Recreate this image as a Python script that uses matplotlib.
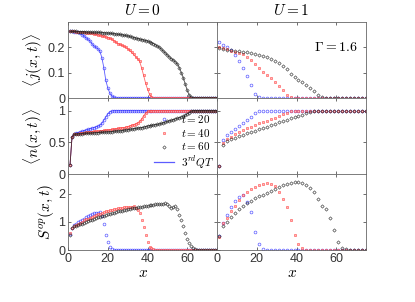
import numpy as np
import matplotlib
matplotlib.use("Agg")
import matplotlib.pyplot as plt

plt.rcParams['mathtext.fontset'] = 'cm'
plt.rcParams['font.family'] = ['Liberation Sans', 'DejaVu Sans']

# sites
x_left = np.arange(1, 76)
x_right = np.arange(1, 76, 2)

# U = 0, current
j0_t20 = [.263, .263, .262, .261, .259, .255, .250, .245, .238, .232, .225, .215, .205, .200, .195,
          .185, .160, .120, .070, .040, .020, .008, .003] + [0.0] * 52
j0_t40 = [.263, .263, .263, .262, .262, .261, .260, .259, .258,
          .257, .256, .255, .253, .251, .249, .247, .245, .243, .241,
          .239, .236, .232, .227, .221, .215, .212, .208, .205, .200,
          .195, .188, .180, .172, .163, .155, .145, .120, .090, .060,
          .035, .015, .005] + [0.0] * 33
j0_t60 = [.263, .263, .263, .263, .262, .262, .262, .262, .261, .261,
          .261, .260, .260, .260, .259, .259, .258, .258, .257, .257,
          .256, .255, .254, .253, .252, .251, .250, .248, .247, .245,
          .243, .241, .239, .237, .235, .233, .231, .229, .227, .225,
          .222, .219, .215, .210, .205, .200, .193, .185, .178, .170,
          .162, .155, .150, .143, .135, .120, .100, .080, .055, .030,
          .012, .004] + [0.0] * 13

# U = 0, density
n0_t20 = [.15, .59, .63, .645, .655, .665, .675, .685, .695, .705, .715, .725, .735, .745, .755,
          .77, .80, .85, .90, .95, .98, .995, 1.0] + [1.0] * 52
n0_t40 = [.15, .59, .63, .635, .64, .645, .65, .655, .66, .663,
          .666, .669, .672, .675, .678, .681, .685, .689, .693, .697,
          .701, .705, .71, .715, .72, .725, .73, .735, .74, .75,
          .76, .77, .78, .795, .81, .83, .87, .92, .96, .99, 1.0] + [1.0] * 34
n0_t60 = [.15, .59, .625, .63, .633, .636, .639, .641, .643, .645,
          .647, .649, .651, .653, .655, .657, .659, .661, .663, .665,
          .668, .671, .674, .677, .680, .683, .686, .690, .695, .700,
          .705, .71, .715, .72, .725, .73, .735, .74, .75, .76,
          .765, .77, .775, .78, .785, .79, .80, .81, .82, .83,
          .84, .85, .86, .87, .88, .89, .90, .91, .93, .95,
          .97, .99, 1.0] + [1.0] * 12

# U = 0, entanglement
s0_t20 = [.57, .8, .88, .93, .98, 1.02, 1.07, 1.12, 1.17, 1.21, 1.25, 1.29, 1.3, 1.33, 1.32,
          1.35, 1.2, .92, .55, .3, .12, .04, .01, 0.0] + [0.0] * 51
s0_t40 = [.6, .8, .86, .9, .94, .97, 1.01, 1.05, 1.09, 1.12,
          1.15, 1.18, 1.21, 1.24, 1.27, 1.29, 1.32, 1.35, 1.37, 1.4,
          1.42, 1.44, 1.46, 1.47, 1.49, 1.5, 1.51, 1.52, 1.52, 1.53,
          1.54, 1.54, 1.55, 1.5, 1.43, 1.3, 1.07, .83, .54, .3,
          .12, .06, .03, .01, 0.0] + [0.0] * 30
s0_t60 = [.55, .8, .84, .86, .88, .91, .94, .97, 1.0, 1.03,
          1.06, 1.08, 1.11, 1.13, 1.16, 1.18, 1.2, 1.22, 1.25, 1.27,
          1.29, 1.31, 1.33, 1.35, 1.37, 1.39, 1.4, 1.42, 1.44, 1.45,
          1.47, 1.48, 1.5, 1.51, 1.52, 1.53, 1.54, 1.56, 1.57, 1.58,
          1.59, 1.6, 1.61, 1.62, 1.63, 1.64, 1.64, 1.65, 1.66, 1.64,
          1.55, 1.5, 1.52, 1.55, 1.45, 1.25, 1.05, .85, .6, .4,
          .24, .13, .07, .03, .01, 0.0] + [0.0] * 9

# U = 1, current (every second site)
j1_t20 = [.22, .21, .2, .188, .168, .145, .12, .088, .05, .017, .003] + [0.0] * 27
j1_t40 = [.203, .198, .193, .187, .181, .177, .174, .164, .15, .135,
          .12, .104, .092, .078, .063, .048, .03, .013, .004] + [0.0] * 19
j1_t60 = [.197, .193, .19, .188, .186, .184, .182, .18, .177, .174,
          .17, .166, .161, .154, .146, .138, .128, .113, .095, .083,
          .073, .063, .052, .04, .027, .014, .005] + [0.0] * 11

# U = 1, density
n1_t20 = [.13, .53, .61, .66, .71, .755, .80, .85, .90, .96, .99] + [1.0] * 27
n1_t40 = [.13, .49, .55, .59, .63, .665, .695, .725, .75, .775,
          .80, .82, .84, .865, .89, .92, .95, .97, .99] + [1.0] * 19
n1_t60 = [.12, .46, .52, .55, .575, .60, .62, .645, .665, .685,
          .705, .725, .745, .77, .79, .815, .84, .86, .88, .90,
          .92, .94, .96, .975, .99] + [1.0] * 13

# U = 1, entanglement
s1_t20 = [.5, .95, 1.25, 1.52, 1.75, 1.88, 1.95, 1.72, 1.35, .65, .2, .03] + [0.0] * 26
s1_t40 = [.45, .95, 1.15, 1.38, 1.57, 1.78, 1.95, 2.08, 2.17, 2.25,
          2.31, 2.35, 2.38, 2.36, 2.26, 2.08, 1.82, 1.52, 1.05, .55,
          .22, .06, .01] + [0.0] * 15
s1_t60 = [.5, .85, 1.0, 1.18, 1.32, 1.45, 1.57, 1.67, 1.76, 1.84,
          1.91, 1.97, 2.03, 2.1, 2.17, 2.24, 2.3, 2.35, 2.39, 2.42,
          2.42, 2.39, 2.32, 2.22, 2.08, 1.8, 1.58, 1.45, 1.15, .7,
          .3, .08, .02] + [0.0] * 5

left_data = [(j0_t20, j0_t40, j0_t60), (n0_t20, n0_t40, n0_t60), (s0_t20, s0_t40, s0_t60)]
right_data = [(j1_t20, j1_t40, j1_t60), (n1_t20, n1_t40, n1_t60), (s1_t20, s1_t40, s1_t60)]

labels = ["$t=20$", "$t=40$", "$t=60$"]
colors = ["#3333ff", "#ff4444", "#222222"]
fills = ["none", "#ffaaaa", "none"]
markers = ["o", "s", "D"]
msizes = [2.0, 1.5, 1.7]

ylims = [(0, 0.3), (0, 1.2), (0, 2.7)]
yticks = [[0, 0.1, 0.2], [0, 0.5, 1], [0, 1, 2]]
yticklabels = [["0", "0.1", "0.2"], ["0", "0.5", "1"], ["0", "1", "2"]]
ylabels = [r"$\langle j(x,t)\rangle$", r"$\langle n(x,t)\rangle$", r"$S^{op}(x,t)$"]

fig, axes = plt.subplots(3, 2, figsize=(4.15, 3.02), dpi=100)
fig.subplots_adjust(left=0.164, right=0.882, top=0.927, bottom=0.172, hspace=0, wspace=0)

for r in range(3):
    for c in range(2):
        ax = axes[r, c]
        data = left_data[r] if c == 0 else right_data[r]
        xs = x_left if c == 0 else x_right
        for k in range(3):
            ax.plot(xs, data[k], linestyle='none', marker=markers[k], ms=msizes[k],
                    mfc=fills[k], mec=colors[k], mew=0.5, alpha=0.8, label=labels[k])
            if c == 0 and r < 2:
                ax.plot(xs, data[k], color=colors[k], lw=0.6, alpha=0.8)
        ax.set_xlim(0, 75)
        ax.set_ylim(*ylims[r])
        ax.set_xticks([0, 20, 40, 60])
        ax.set_yticks(yticks[r])
        ax.tick_params(direction='in', top=True, right=True, length=2.5, width=0.5,
                       labelsize=9, pad=2, colors='0.2')
        for sp in ax.spines.values():
            sp.set_linewidth(0.6)
            sp.set_color('0.4')
        if c == 0:
            ax.set_yticklabels(yticklabels[r])
            ax.set_ylabel(ylabels[r], fontsize=11, labelpad=2)
        else:
            ax.set_yticklabels([])
        if r < 2:
            ax.set_xticklabels([])
        else:
            ax.set_xlabel("$x$", fontsize=11, labelpad=1)

axes[0, 0].set_title("$U=0$", fontsize=11, pad=5)
axes[0, 1].set_title("$U=1$", fontsize=11, pad=5)
axes[0, 1].text(0.8, 0.67, r"$\Gamma=1.6$", transform=axes[0, 1].transAxes,
                ha='center', va='center', fontsize=10)

handles = axes[1, 0].get_lines()
mk = [h for h in handles if h.get_linestyle() == 'None']
qt = plt.Line2D([], [], color=colors[0], lw=0.9, alpha=0.8)
axes[1, 0].legend(mk + [qt], labels + ["$3^{rd}QT$"], loc='lower right', frameon=False,
                  fontsize=8, handlelength=1.8, handletextpad=0.6, labelspacing=0.15,
                  borderpad=0.1, borderaxespad=0.2)

fig.savefig("out.png", dpi=100)
